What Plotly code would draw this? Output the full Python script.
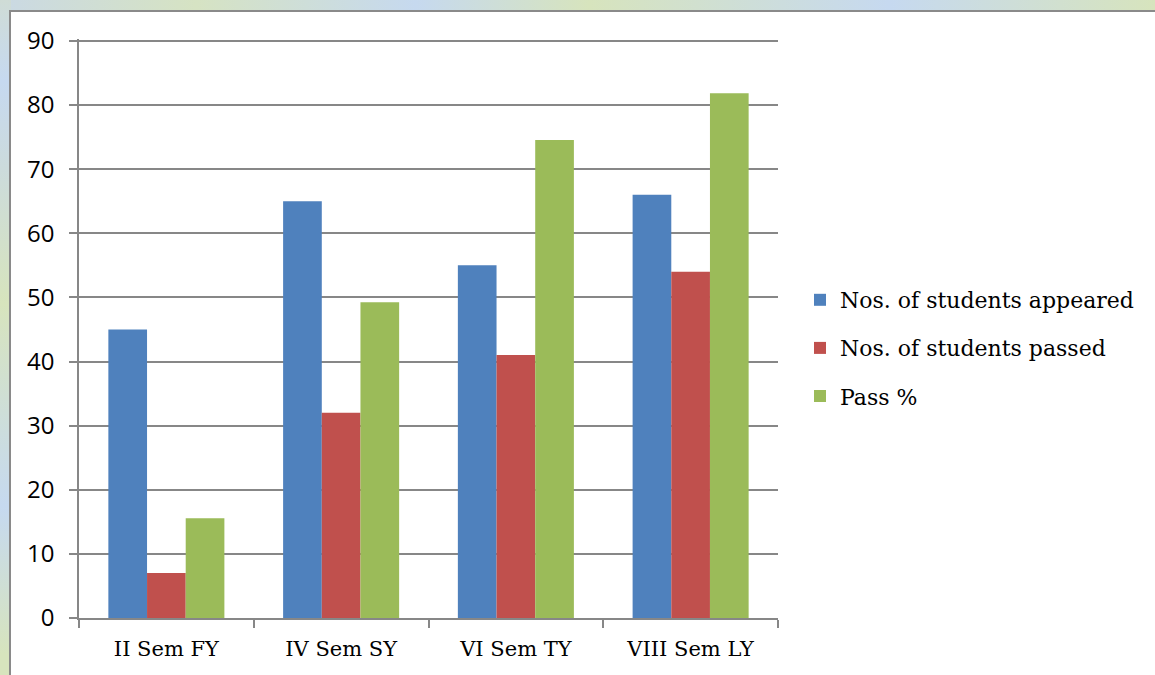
import base64
import plotly.graph_objects as go

categories = ["II Sem FY", "IV Sem SY", "VI Sem TY", "VIII Sem LY"]
appeared = [45, 65, 55, 66]
passed = [7, 32, 41, 54]
pass_pct = [15.56, 49.23, 74.55, 81.82]
y_ticks = [0, 10, 20, 30, 40, 50, 60, 70, 80, 90]

W, H = 1155, 675
L, R, T, B = 79, 377, 39, 57
PW, PH = W - L - R, H - T - B

svg = f"""<svg xmlns='http://www.w3.org/2000/svg' width='{W}' height='{H}' viewBox='0 0 {W} {H}' preserveAspectRatio='none'>
<defs>
<linearGradient id='h' x1='0' y1='0' x2='{W}' y2='0' gradientUnits='userSpaceOnUse'>
<stop offset='0' stop-color='#cad9e4'/>
<stop offset='0.17' stop-color='#d6e3c3'/>
<stop offset='0.36' stop-color='#c6d9ef'/>
<stop offset='0.51' stop-color='#d7e4bd'/>
<stop offset='0.77' stop-color='#c6d9f0'/>
<stop offset='1' stop-color='#d7e4bd'/>
</linearGradient>
<linearGradient id='v' x1='0' y1='0' x2='0' y2='{H}' gradientUnits='userSpaceOnUse'>
<stop offset='0' stop-color='#cfdcd6'/>
<stop offset='0.12' stop-color='#c6d9f0'/>
<stop offset='0.25' stop-color='#ccdbdc'/>
<stop offset='0.45' stop-color='#d7e4bd'/>
<stop offset='0.75' stop-color='#c6d9f0'/>
<stop offset='0.97' stop-color='#d7e4bd'/>
</linearGradient>
</defs>
<rect x='0' y='0' width='{W}' height='12' fill='url(#h)'/>
<rect x='0' y='0' width='11' height='{H}' fill='url(#v)'/>
<rect x='10' y='11' width='{W + 20}' height='{H + 20}' fill='#ffffff' stroke='#8a8a8a' stroke-width='2'/>
</svg>"""
src = "data:image/svg+xml;base64," + base64.b64encode(svg.encode()).decode()

serif = "DejaVu Serif"
sans = "Open Sans"
grid = "#878787"

fig = go.Figure()
for name, vals, col in [
    ("Nos. of students appeared", appeared, "#4f81bd"),
    ("Nos. of students passed", passed, "#c0504d"),
    ("Pass %", pass_pct, "#9bbb59"),
]:
    fig.add_trace(go.Bar(x=categories, y=vals, name=name, marker_color=col,
                         marker_line_width=0, legendgroup=name))

fig.update_layout(
    width=W, height=H,
    margin=dict(l=L, r=R, t=T, b=B, pad=0),
    paper_bgcolor="#ffffff", plot_bgcolor="rgba(0,0,0,0)",
    barmode="group", bargap=0.336, bargroupgap=0,
    showlegend=True,
    legend=dict(x=(800 - L) / PW, xanchor="left", y=(H - B - 348) / PH, yanchor="middle",
                font=dict(family=serif, size=22, color="#000000"),
                traceorder="grouped", tracegroupgap=16.5, bgcolor="rgba(0,0,0,0)",
                borderwidth=0),
    images=[dict(source=src, xref="paper", yref="paper", x=-L / PW, y=(H - B) / PH,
                 sizex=W / PW, sizey=H / PH, xanchor="left", yanchor="top",
                 sizing="stretch", layer="below")],
)
fig.update_xaxes(showline=True, linecolor=grid, linewidth=1.5,
                 ticks="outside", tickson="boundaries", ticklen=8, tickcolor=grid, tickwidth=1.5,
                 ticklabelstandoff=11,
                 tickfont=dict(family=serif, size=21, color="#000000"),
                 showgrid=False, zeroline=False)
fig.update_yaxes(range=[0, 90.3], tickvals=y_ticks, showline=True, linecolor=grid, linewidth=1.5,
                 ticks="outside", ticklen=8, tickcolor=grid, tickwidth=1.5,
                 ticklabelstandoff=10,
                 tickfont=dict(family=sans, size=24, color="#000000"),
                 showgrid=True, gridcolor=grid, gridwidth=1.5, zeroline=False)

fig.write_html("out.html")
